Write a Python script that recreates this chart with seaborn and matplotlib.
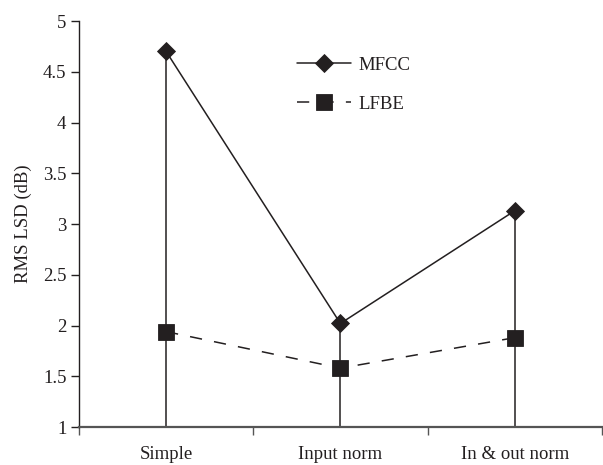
import numpy as np
import pandas as pd
import matplotlib
matplotlib.use("Agg")
import matplotlib.pyplot as plt
import seaborn as sns

# dados
categorias = ["Simple", "Input norm", "In & out norm"]
mfcc = [4.70, 2.02, 3.13]
lfbe = [1.94, 1.58, 1.88]
series = ["MFCC", "LFBE"]
yticks = [1, 1.5, 2, 2.5, 3, 3.5, 4, 4.5, 5]

sns.set_theme(style="ticks")
plt.rcParams["font.family"] = ["Liberation Serif", "DejaVu Serif"]

cor = "#231f20"
fs = 13.5

pos = np.arange(len(categorias))
df = pd.DataFrame({
    "pos": np.concatenate([pos, pos]),
    "valor": mfcc + lfbe,
    "serie": [series[0]] * len(mfcc) + [series[1]] * len(lfbe),
})

fig = plt.figure(figsize=(6.03, 4.65), dpi=100)
ax = fig.add_axes([0.131, 0.0817, 0.867, 0.8731])

# linhas verticais até a base
ax.vlines(pos, 1, mfcc, color=cor, lw=1.1, zorder=1)

sns.lineplot(
    data=df, x="pos", y="valor", hue="serie", style="serie",
    palette={"MFCC": cor, "LFBE": cor},
    markers={"MFCC": "D", "LFBE": "s"},
    dashes={"MFCC": "", "LFBE": (8, 8)},
    markersize=9.5, linewidth=1.1, markeredgewidth=0.6,
    markeredgecolor=cor, ax=ax, zorder=3, legend=True,
)
for line in ax.lines:
    if line.get_marker() == "s":
        line.set_markersize(12)

ax.set_xlim(-0.5, 2.5)
ax.set_ylim(1, 5)
ax.set_yticks(yticks)
ax.set_yticklabels([f"{t:g}" for t in yticks], fontsize=fs, color=cor)
ax.set_xticks([-0.5, 0.5, 1.5, 2.5])
ax.set_xticklabels([])
ax.set_xticks(pos, minor=True)
ax.set_xticklabels(categorias, minor=True, fontsize=fs, color=cor)
ax.tick_params(axis="x", which="minor", length=0, pad=14)
ax.tick_params(axis="x", which="major", length=6, width=1.0, color="#555555", direction="out")
ax.tick_params(axis="y", length=6, width=1.0, color=cor, direction="out", pad=3)
ax.set_xlabel("")
ax.set_ylabel("RMS LSD (dB)", fontsize=fs, color=cor, labelpad=8)

for s in ["top", "right"]:
    ax.spines[s].set_visible(False)
ax.spines["left"].set_color(cor)
ax.spines["left"].set_linewidth(1.0)
ax.spines["bottom"].set_color("#555555")
ax.spines["bottom"].set_linewidth(1.6)

leg = ax.legend(
    loc="upper left", bbox_to_anchor=(0.417, 0.912), frameon=False,
    fontsize=fs, handlelength=2.9, labelspacing=1.15, handletextpad=0.4,
    borderpad=0, borderaxespad=0, title=None,
)
for t in leg.get_texts():
    t.set_color(cor)

fig.savefig("out.png", dpi=100)
